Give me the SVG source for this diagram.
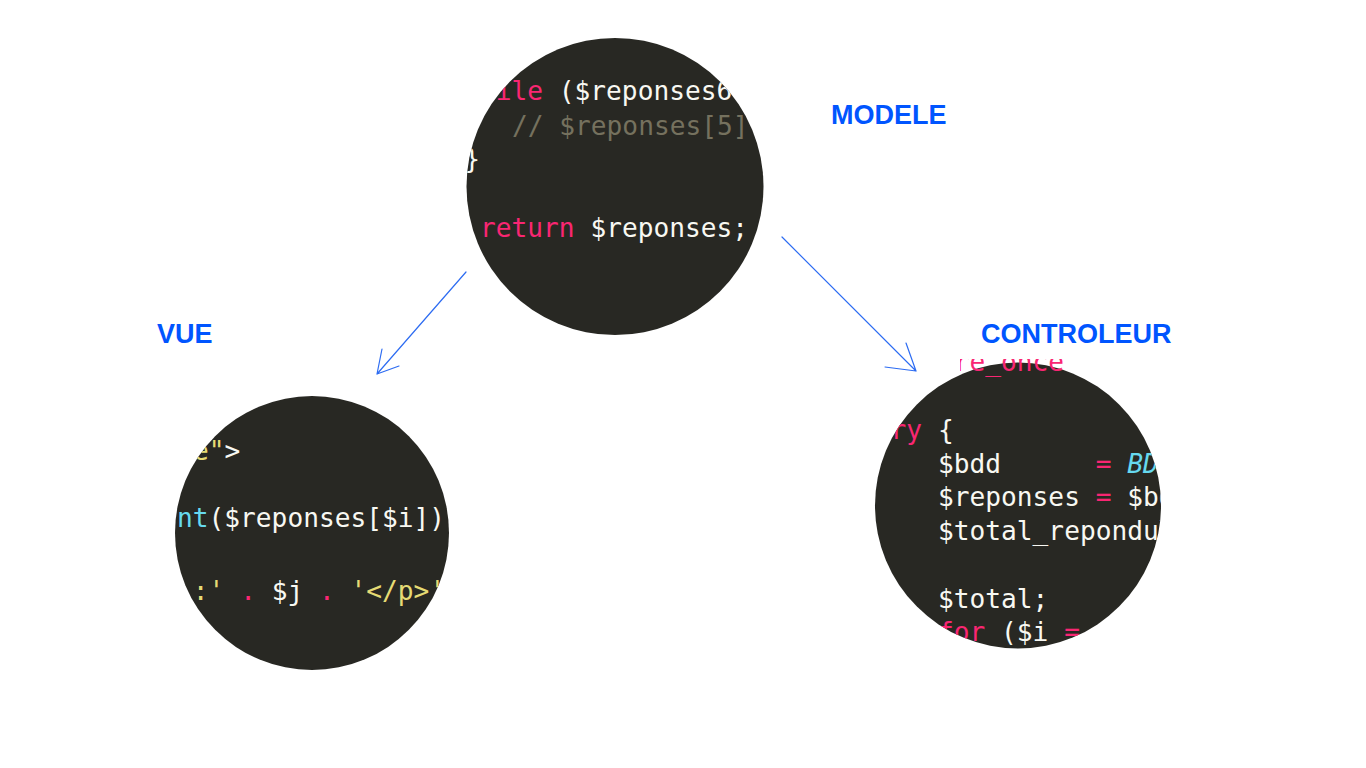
<svg xmlns="http://www.w3.org/2000/svg" width="1366" height="768" viewBox="0 0 1366 768">
<style>
.bg{fill:#282823}
.code{font-family:"DejaVu Sans Mono","Liberation Mono",monospace;font-size:26.2px;fill:#f8f8f2;white-space:pre}
.k{fill:#f92672}
.c{fill:#75715e}
.s{fill:#e6db74}
.f{fill:#66d9ef}
.i{fill:#66d9ef;font-style:italic}
.lbl{font-family:"Liberation Sans",Arial,sans-serif;font-weight:bold;font-size:27px;fill:#0055ff}
.arr{fill:none;stroke:#2d6cf2;stroke-width:1.2;stroke-linecap:round;stroke-linejoin:round}
</style>
<defs>
<clipPath id="clipM"><circle cx="615" cy="186.5" r="148.5"/></clipPath>
<clipPath id="clipV"><circle cx="312" cy="533" r="137"/></clipPath>
<clipPath id="clipC"><circle cx="1018" cy="505.5" r="143"/><rect x="960" y="359" width="108" height="14"/></clipPath>
</defs>
<rect width="1366" height="768" fill="#ffffff"/>
<g id="modele">
<circle class="bg" cx="615" cy="186.5" r="148.5"/>
<g clip-path="url(#clipM)" class="code">
<text xml:space="preserve" x="464.2" y="100"><tspan class="k">while</tspan> ($reponses6</text>
<text xml:space="preserve" x="512" y="135" class="c">// $reponses[5]</text>
<text xml:space="preserve" x="464.2" y="168">}</text>
<text xml:space="preserve" x="480" y="237"><tspan class="k">return</tspan> $reponses;</text>
</g>
<text class="lbl" x="831" y="124" font-size="26">MODELE</text>
</g>
<g id="vue">
<circle class="bg" cx="312" cy="533" r="137"/>
<g clip-path="url(#clipV)" class="code">
<text xml:space="preserve" x="193" y="460"><tspan class="s">e"</tspan>&gt;</text>
<text xml:space="preserve" x="177" y="527"><tspan class="f">nt</tspan>($reponses[$i])</text>
<text xml:space="preserve" x="192.8" y="600"><tspan class="s">:'</tspan> <tspan class="k">.</tspan> $j <tspan class="k">.</tspan> <tspan class="s">'&lt;/p&gt;'</tspan></text>
</g>
<text class="lbl" x="157" y="343">VUE</text>
</g>
<g id="controleur">
<circle class="bg" cx="1018" cy="505.5" r="143"/>
<g clip-path="url(#clipC)" class="code">
<text xml:space="preserve" x="874.8" y="371" class="k">require_once</text>
<text xml:space="preserve" x="874.8" y="439"><tspan class="k">try</tspan> {</text>
<text xml:space="preserve" x="938" y="472.5">$bdd      <tspan class="k">=</tspan> <tspan class="i">BDD</tspan></text>
<text xml:space="preserve" x="938" y="506">$reponses <tspan class="k">=</tspan> $bdd</text>
<text xml:space="preserve" x="938" y="540">$total_reponduXX</text>
<text xml:space="preserve" x="938" y="607.5">$total;</text>
<text xml:space="preserve" x="938" y="641"><tspan class="k">for</tspan> ($i <tspan class="k">=</tspan></text>
</g>
<text class="lbl" x="981" y="343">CONTROLEUR</text>
</g>
<g id="connectors">
<path class="arr" d="M466 272 L377 374 M382 349 L377 374 L399 366"/>
<path class="arr" d="M782 237 L916 371 M906 343 L916 371 L885 367"/>
</g>
</svg>
